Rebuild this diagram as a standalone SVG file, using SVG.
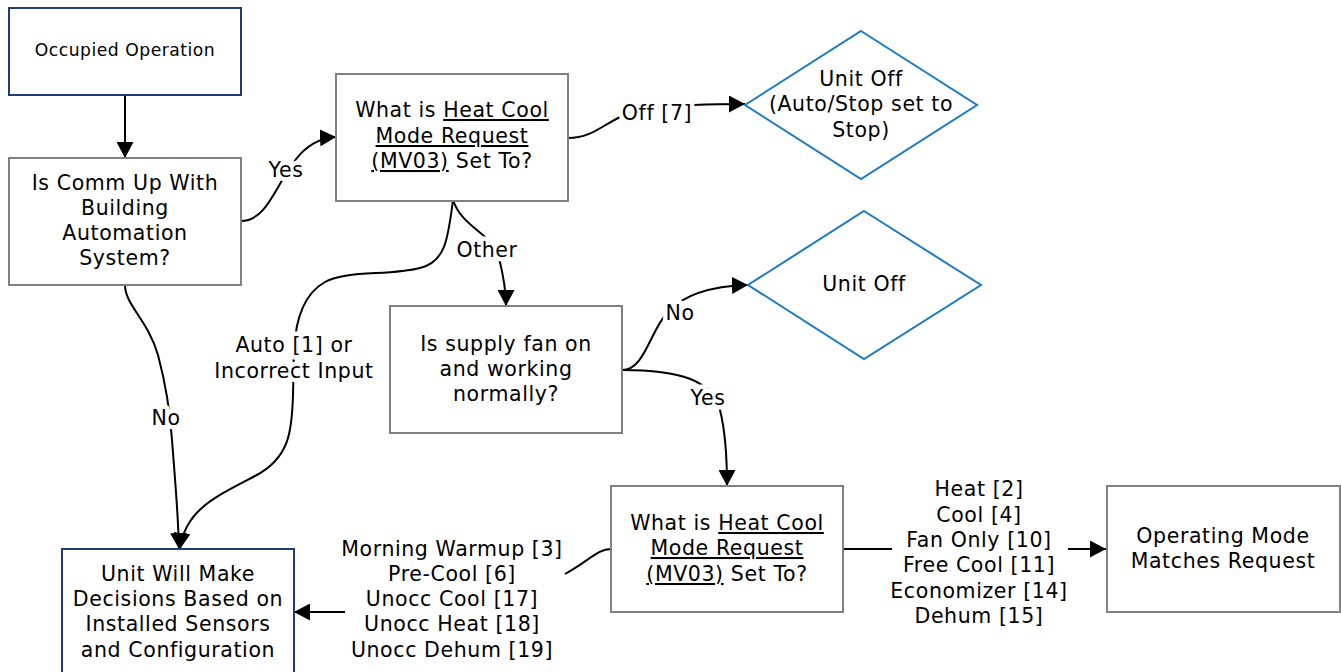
<svg xmlns="http://www.w3.org/2000/svg" width="1341" height="672" viewBox="0 0 1341 672">
  <style>
    text { font-family: "DejaVu Sans", Verdana, sans-serif; font-size: 20.5px; fill: #000; text-anchor: middle; letter-spacing: 0.6px; }
    .small { font-size: 17.2px; letter-spacing: 0.5px; }
    .box { fill: #fff; stroke: #808080; stroke-width: 2; }
    .navy { fill: #fff; stroke: #1f3b7a; stroke-width: 2; }
    .dia { fill: #fff; stroke: #1c7ac4; stroke-width: 2; }
    .wire { fill: none; stroke: #000; stroke-width: 2; }
    .arr { marker-end: url(#head); }
    .lbl { stroke: #fff; stroke-width: 9; stroke-linejoin: round; paint-order: stroke; }
    .u { text-decoration: underline; }
  </style>
  <defs>
    <marker id="head" markerUnits="userSpaceOnUse" markerWidth="17" markerHeight="17" refX="16" refY="8.5" orient="auto">
      <path d="M0,0 L16,8.5 L0,17 Z" fill="#000"/>
    </marker>
  </defs>

  <rect width="1341" height="672" fill="#fff"/>

  <!-- connectors -->
  <g id="connectors">
    <path class="wire arr" d="M125,95 L125,158"/>
    <path class="wire arr" d="M241,221 C280,221 280,140 336,137"/>
    <path class="wire arr" d="M568,138 C600,138 608,114 650,108 C680,105 710,104 745,104"/>
    <path class="wire arr" d="M453,200 C462,228 494,234 499,258 C504,278 506,290 506,306"/>
    <path class="wire arr" d="M453,200 C448,240 445,262 420,268 C390,276 345,270 325,282 C300,296 295,330 294,350 L293,395 C292,430 290,458 255,476 C215,497 185,510 180,549"/>
    <path class="wire arr" d="M125,285 C125,305 148,320 158,355 C166,385 170,410 172,440 C175,480 178,510 179,549"/>
    <path class="wire arr" d="M622,370 C645,370 650,330 668,312 C685,293 715,286 748,285"/>
    <path class="wire arr" d="M622,370 C680,370 712,380 720,410 C725,430 727,455 727,486"/>
    <path class="wire" d="M843,549 L892,549"/>
    <path class="wire arr" d="M1068,549 L1106,549"/>
    <path class="wire" d="M611,549 C598,549 590,560 565,574"/>
    <path class="wire arr" d="M345,612 L294,612"/>

    <text class="lbl" x="286" y="177">Yes</text>
    <text class="lbl" x="657" y="120">Off [7]</text>
    <text class="lbl" x="487" y="257">Other</text>
    <text class="lbl" x="294" y="352">Auto [1] or</text>
    <text class="lbl" x="294" y="378">Incorrect Input</text>
    <text class="lbl" x="166" y="425">No</text>
    <text class="lbl" x="680" y="320">No</text>
    <text class="lbl" x="708" y="405">Yes</text>
    <text x="979" y="496">Heat [2]</text>
    <text x="979" y="522">Cool [4]</text>
    <text x="979" y="547">Fan Only [10]</text>
    <text x="979" y="572">Free Cool [11]</text>
    <text x="979" y="598">Economizer [14]</text>
    <text x="979" y="623">Dehum [15]</text>
    <text x="452" y="556">Morning Warmup [3]</text>
    <text x="452" y="581">Pre-Cool [6]</text>
    <text x="452" y="606">Unocc Cool [17]</text>
    <text x="452" y="631">Unocc Heat [18]</text>
    <text x="452" y="657">Unocc Dehum [19]</text>
  </g>

  <g id="occupied-operation">
    <rect class="navy" x="9" y="8" width="232" height="87"/>
    <text class="small" x="125" y="56">Occupied Operation</text>
  </g>

  <g id="comm-up">
    <rect class="box" x="9" y="158" width="232" height="127"/>
    <text x="125" y="190">Is Comm Up With</text>
    <text x="125" y="215">Building</text>
    <text x="125" y="240">Automation</text>
    <text x="125" y="265">System?</text>
  </g>

  <g id="mode-request-1">
    <rect class="box" x="336" y="74" width="232" height="127"/>
    <text x="452" y="117">What is <tspan class="u">Heat Cool</tspan></text>
    <text x="452" y="143" class="u">Mode Request</text>
    <text x="452" y="168"><tspan class="u">(MV03)</tspan> Set To?</text>
  </g>

  <g id="unit-off-stop">
    <polygon class="dia" points="861,31 977,105 861,179 745,105"/>
    <text x="861" y="86">Unit Off</text>
    <text x="861" y="111">(Auto/Stop set to</text>
    <text x="861" y="137">Stop)</text>
  </g>

  <g id="unit-off">
    <polygon class="dia" points="864,211 981,285 864,359 748,285"/>
    <text x="864" y="291">Unit Off</text>
  </g>

  <g id="supply-fan">
    <rect class="box" x="390" y="306" width="232" height="127"/>
    <text x="506" y="351">Is supply fan on</text>
    <text x="506" y="376">and working</text>
    <text x="506" y="401">normally?</text>
  </g>

  <g id="mode-request-2">
    <rect class="box" x="611" y="486" width="232" height="126"/>
    <text x="727" y="530">What is <tspan class="u">Heat Cool</tspan></text>
    <text x="727" y="555" class="u">Mode Request</text>
    <text x="727" y="581"><tspan class="u">(MV03)</tspan> Set To?</text>
  </g>

  <g id="mode-matches">
    <rect class="box" x="1107" y="486" width="233" height="126"/>
    <text x="1223" y="543">Operating Mode</text>
    <text x="1223" y="568">Matches Request</text>
  </g>

  <g id="sensor-decisions">
    <rect class="navy" x="62" y="549" width="232" height="140"/>
    <text x="178" y="581">Unit Will Make</text>
    <text x="178" y="606">Decisions Based on</text>
    <text x="178" y="631">Installed Sensors</text>
    <text x="178" y="657">and Configuration</text>
  </g>
</svg>
